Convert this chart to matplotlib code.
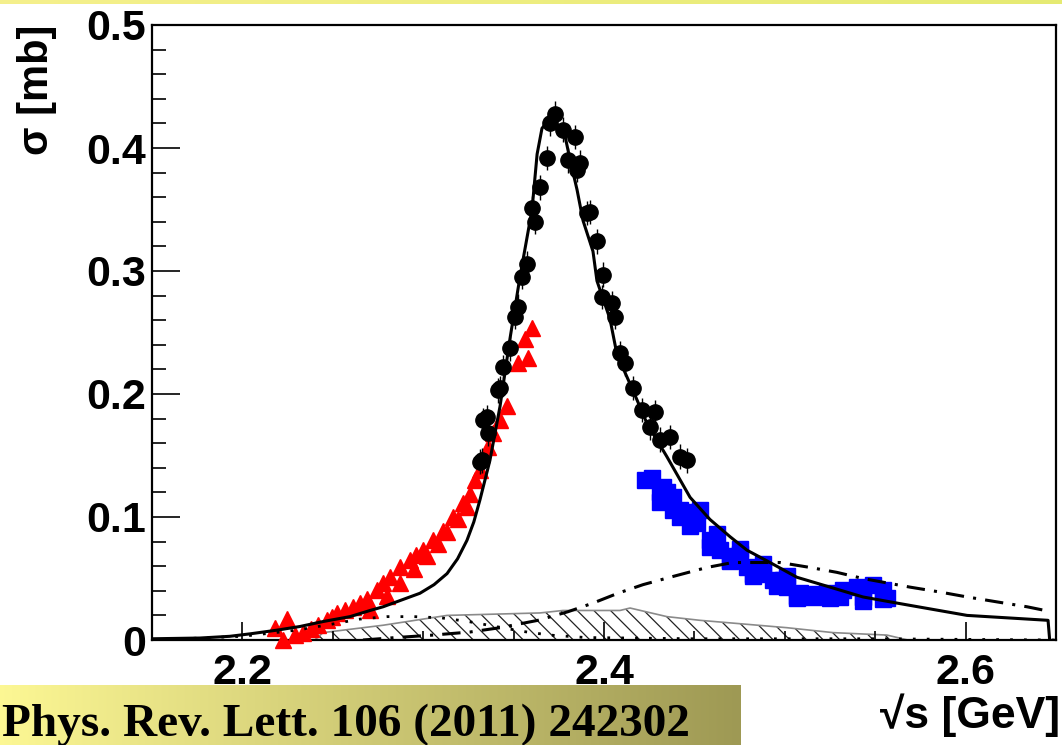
import numpy as np
import matplotlib.pyplot as plt
from matplotlib.ticker import MultipleLocator, FuncFormatter

plt.rcParams['font.family'] = ['Liberation Sans', 'DejaVu Sans']
plt.rcParams['font.weight'] = 'bold'
plt.rcParams['hatch.linewidth'] = 0.9

# red triangles
red_x = [2.218, 2.2225, 2.2247, 2.229, 2.2335, 2.238, 2.242, 2.2468, 2.2495, 2.2523,
         2.257, 2.2612, 2.265, 2.2689, 2.2706, 2.2744, 2.278, 2.2800, 2.2816, 2.2872,
         2.2872, 2.2927, 2.2950, 2.296, 2.2999, 2.3021, 2.3054, 2.3080, 2.311, 2.3132,
         2.3165, 2.3190, 2.322, 2.3242, 2.3259, 2.3287, 2.3314, 2.3358, 2.3386, 2.3425,
         2.3463, 2.3524, 2.3563, 2.358, 2.3602]
red_y = [0.010, 0.000, 0.017, 0.004, 0.006, 0.009, 0.012, 0.016, 0.019, 0.022,
         0.024, 0.027, 0.030, 0.033, 0.024, 0.041, 0.046, 0.036, 0.051, 0.059,
         0.046, 0.065, 0.058, 0.069, 0.073, 0.068, 0.081, 0.078, 0.089, 0.088,
         0.100, 0.098, 0.111, 0.108, 0.119, 0.130, 0.138, 0.157, 0.168, 0.179,
         0.190, 0.225, 0.245, 0.229, 0.254]

# black circles
blk_x = [2.3314, 2.3325, 2.3331, 2.3353, 2.3358, 2.3414, 2.3425, 2.3441, 2.3480, 2.3508,
         2.3524, 2.3546, 2.3574, 2.3602, 2.3618, 2.3646, 2.3685, 2.3701, 2.3729, 2.3773,
         2.3801, 2.3840, 2.3851, 2.3867, 2.3906, 2.3923, 2.3961, 2.3989, 2.3994, 2.4044,
         2.4061, 2.4088, 2.4116, 2.4160, 2.4210, 2.4254, 2.4282, 2.4310, 2.4365, 2.4420,
         2.4459]
blk_y = [0.145, 0.146, 0.179, 0.181, 0.168, 0.203, 0.205, 0.222, 0.237, 0.263,
         0.271, 0.295, 0.306, 0.351, 0.340, 0.368, 0.392, 0.420, 0.428, 0.415,
         0.390, 0.409, 0.382, 0.388, 0.347, 0.348, 0.324, 0.279, 0.297, 0.274,
         0.263, 0.233, 0.225, 0.205, 0.187, 0.173, 0.185, 0.163, 0.165, 0.149,
         0.146]

# blue squares
blu_x = [2.4227, 2.4265, 2.4310, 2.4310, 2.4326, 2.4348, 2.4381, 2.4381, 2.4420, 2.4420,
         2.4476, 2.4476, 2.4514, 2.4531, 2.4586, 2.4586, 2.4625, 2.4642, 2.4697, 2.4697,
         2.4713, 2.4752, 2.4752, 2.4791, 2.4824, 2.4824, 2.4863, 2.4879, 2.4879, 2.4935,
         2.4957, 2.4990, 2.5012, 2.5012, 2.5067, 2.5067, 2.5084, 2.5156, 2.5178, 2.5233,
         2.5250, 2.5305, 2.5322, 2.5399, 2.5432, 2.5432, 2.5488, 2.5543, 2.5543, 2.5565]
blu_y = [0.130, 0.132, 0.120, 0.112, 0.124, 0.120, 0.106, 0.116, 0.106, 0.100,
         0.093, 0.104, 0.095, 0.106, 0.081, 0.076, 0.086, 0.073, 0.065, 0.064,
         0.068, 0.070, 0.074, 0.059, 0.054, 0.052, 0.054, 0.057, 0.062, 0.049,
         0.044, 0.049, 0.043, 0.052, 0.036, 0.034, 0.038, 0.035, 0.037, 0.038,
         0.034, 0.035, 0.041, 0.043, 0.035, 0.032, 0.045, 0.041, 0.033, 0.034]

# fit curve (solid)
fit_x = [2.15, 2.1765, 2.193, 2.2042, 2.2191, 2.2319, 2.2446, 2.2595, 2.2706, 2.2778,
         2.2982, 2.3060, 2.3132, 2.3190, 2.3242, 2.3280, 2.3314, 2.3369, 2.3425, 2.3480,
         2.3535, 2.3602, 2.3630, 2.3657, 2.3701, 2.3740, 2.3784, 2.3810, 2.3851, 2.3884,
         2.3939, 2.3961, 2.4033, 2.4072, 2.4160, 2.4238, 2.4348, 2.4476, 2.4586, 2.4697,
         2.4791, 2.4918, 2.5067, 2.5250, 2.5432, 2.5621, 2.6008, 2.6456, 2.6465]
fit_y = [0.001, 0.0016, 0.003, 0.005, 0.008, 0.011, 0.015, 0.019, 0.024, 0.027,
         0.038, 0.045, 0.054, 0.066, 0.081, 0.096, 0.114, 0.146, 0.190, 0.245,
         0.295, 0.350, 0.395, 0.416, 0.424, 0.419, 0.410, 0.392, 0.366, 0.341,
         0.316, 0.292, 0.261, 0.232, 0.203, 0.176, 0.149, 0.116, 0.098, 0.084,
         0.073, 0.063, 0.051, 0.043, 0.035, 0.030, 0.020, 0.016, 0.0]

# dash-dotted curve
dd_x = [2.2667, 2.2850, 2.3054, 2.3259, 2.3425, 2.3635, 2.3801, 2.3939, 2.4077, 2.4216,
        2.4365, 2.4570, 2.4713, 2.4973, 2.5139, 2.5288, 2.5432, 2.5543, 2.5692, 2.5858,
        2.6008, 2.6173, 2.6340, 2.6440]
dd_y = [0.000, 0.002, 0.004, 0.0065, 0.010, 0.016, 0.023, 0.030, 0.038, 0.045,
        0.051, 0.059, 0.063, 0.063, 0.059, 0.055, 0.050, 0.047, 0.043, 0.039,
        0.035, 0.031, 0.027, 0.024]

# dotted curve
dot_x = [2.15, 2.20, 2.23, 2.25, 2.265, 2.28, 2.295, 2.31, 2.325, 2.34,
         2.355, 2.37, 2.39, 2.45, 2.55, 2.65]
dot_y = [0.0, 0.003, 0.008, 0.013, 0.017, 0.019, 0.019, 0.018, 0.015, 0.011,
         0.007, 0.004, 0.002, 0.001, 0.001, 0.0]

# hatched systematic band
band_x = [2.2400, 2.2446, 2.2778, 2.3132, 2.3646, 2.3773, 2.3978, 2.4088, 2.4144, 2.4348,
          2.4531, 2.5012, 2.5267, 2.5565, 2.5637, 2.5680]
band_y = [0.0, 0.006, 0.012, 0.020, 0.022, 0.024, 0.024, 0.024, 0.026, 0.019,
          0.016, 0.010, 0.006, 0.004, 0.0015, 0.0]

W, H = 1062, 745
fig = plt.figure(figsize=(W / 100, H / 100), dpi=100)

# yellow strip on top and reference box
top = fig.add_axes([0, 1 - 4 / H, 1, 4 / H])
grad = np.linspace(0, 1, 256)[None, :, None]
c0 = np.array([0.96, 0.94, 0.55])
c1 = np.array([0.90, 0.92, 0.45])
top.imshow(c0 + (c1 - c0) * grad, aspect='auto', extent=[0, 1, 0, 1])
top.axis('off')

box = fig.add_axes([0, 0, 741 / W, 60 / H])
c0 = np.array([0.99, 0.97, 0.58])
c1 = np.array([0.62, 0.60, 0.33])
box.imshow(c0 + (c1 - c0) * grad, aspect='auto', extent=[0, 1, 0, 1])
box.axis('off')
fig.text(0.002, 9 / H, 'Phys. Rev. Lett. 106 (2011) 242302', family='Liberation Serif',
         fontsize=34, fontweight='bold', ha='left', va='baseline')

ax = fig.add_axes([152 / W, 105 / H, 904 / W, 615 / H])

ax.fill_between(band_x, 0, band_y, facecolor='none', edgecolor='#222222',
                hatch='\\\\', linewidth=0, zorder=1)
ax.plot(band_x, band_y, color='#8a8a8a', lw=1.2, zorder=1.5)

ax.plot(red_x, red_y, '^', color='#ff0000', ms=12, mec='#ff0000', zorder=3, clip_on=False)
ax.plot(blu_x, blu_y, 's', color='#0000ff', ms=11, mec='#0000ff', zorder=3)

ax.plot(dot_x, dot_y, color='k', lw=2, linestyle=(0, (1, 4)), zorder=4)
ax.plot(dd_x, dd_y, color='k', lw=2.2, linestyle=(0, (6, 3, 1, 3)), zorder=4)
ax.plot(fit_x, fit_y, color='k', lw=2.2, zorder=4)

ax.errorbar(blk_x, blk_y, yerr=0.01, xerr=0.003, fmt='o', color='k', ms=11,
            elinewidth=1, capsize=0, zorder=5)

ax.set_xlim(2.15, 2.65)
ax.set_ylim(0, 0.5)
ax.xaxis.set_major_locator(MultipleLocator(0.2))
ax.xaxis.set_minor_locator(MultipleLocator(0.05))
ax.yaxis.set_major_locator(MultipleLocator(0.1))
ax.yaxis.set_minor_locator(MultipleLocator(0.02))
ax.yaxis.set_major_formatter(FuncFormatter(lambda v, p: '0' if abs(v) < 1e-9 else f'{v:.1f}'))
ax.xaxis.set_major_formatter(FuncFormatter(lambda v, p: f'{v:.1f}'))

ax.tick_params(which='both', direction='in', top=False, right=False, width=1.2)
ax.tick_params(axis='x', which='major', length=13, pad=9, labelsize=31)
ax.tick_params(axis='x', which='minor', length=6.5)
ax.tick_params(axis='y', which='major', length=20, pad=4, labelsize=31)
ax.tick_params(axis='y', which='minor', length=10)
for sp in ax.spines.values():
    sp.set_linewidth(1.6)

fig.text(37 / W, 1 - 25 / H, 'σ [mb]', rotation=90, fontsize=30, fontweight='bold',
         ha='center', va='top')
fig.text(0.998, 17 / H, '√s [GeV]', fontsize=32, fontweight='bold', ha='right',
         va='baseline')

fig.savefig('out.png', dpi=100)
